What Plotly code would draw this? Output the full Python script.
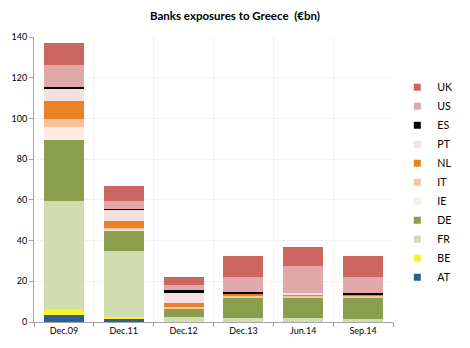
import plotly.graph_objects as go

# Exposure of national banking systems to Greece, € billions
periods = ["Dec.09", "Dec.11", "Dec.12", "Dec.13", "Jun.14", "Sep.14"]

AT = [3.3, 1.8, 0.2, 0.0, 0.0, 0.0]
BE = [2.9, 0.7, 0.0, 0.0, 0.0, 0.0]
FR = [53.0, 32.6, 2.1, 1.8, 1.8, 1.5]
DE = [30.3, 9.8, 4.4, 9.8, 9.8, 10.1]
IE = [6.1, 0.3, 0.0, 0.0, 0.0, 0.0]
IT = [4.2, 1.2, 0.5, 1.5, 1.0, 1.0]
NL = [8.6, 3.0, 2.0, 0.8, 1.0, 1.0]
PT = [6.1, 5.7, 5.2, 0.2, 0.5, 0.0]
ES = [1.0, 0.6, 1.1, 0.8, 0.0, 0.6]
US = [10.8, 3.5, 2.5, 7.2, 13.2, 7.7]
UK = [11.0, 7.8, 3.9, 10.3, 9.3, 10.3]

series = [
    ("AT", AT, "#2E5F92"),
    ("BE", BE, "#FBF22E"),
    ("FR", FR, "#D1DCAF"),
    ("DE", DE, "#8A9E4E"),
    ("IE", IE, "#FCEBE0"),
    ("IT", IT, "#F9C49A"),
    ("NL", NL, "#E98224"),
    ("PT", PT, "#F4E0E0"),
    ("ES", ES, "#000000"),
    ("US", US, "#E0A8A8"),
    ("UK", UK, "#CC6660"),
]

fig = go.Figure()
for name, vals, color in series:
    fig.add_trace(go.Bar(
        x=periods, y=vals, name=name, marker_color=color,
        marker_line_width=0, showlegend=False,
    ))

# Legend entries with small square swatches, top item first
for name, vals, color in reversed(series):
    fig.add_trace(go.Scatter(
        x=[None], y=[None], mode="markers", name=name,
        marker=dict(symbol="square", size=7, color=color),
    ))

font = "Lato, 'Open Sans', sans-serif"
fig.update_layout(
    width=470, height=348,
    margin=dict(l=32, r=52, t=37, b=25),
    paper_bgcolor="white", plot_bgcolor="white",
    barmode="stack", bargap=0.33,
    font=dict(family=font, size=10, color="#000000"),
    title=dict(text="<b>Banks exposures to Greece  (€bn)</b>",
               x=0.5, xanchor="center", y=0.955, yanchor="middle",
               font=dict(size=11.5, family=font)),
    legend=dict(x=1.012, xanchor="left", y=0.875, yanchor="top",
                traceorder="normal", font=dict(size=10.6),
                itemwidth=30, tracegroupgap=0, bgcolor="rgba(0,0,0,0)"),
    xaxis=dict(tickson="boundaries", ticks="outside", ticklen=4,
               tickcolor="#A6A6A6", showline=True, linecolor="#A6A6A6",
               showgrid=True, gridcolor="#F2F2F2",
               tickfont=dict(size=9)),
    yaxis=dict(range=[0, 140], dtick=20, ticks="outside", ticklen=4,
               tickcolor="#A6A6A6", showline=True, linecolor="#A6A6A6",
               gridcolor="#F2F2F2", zeroline=False,
               tickfont=dict(size=9)),
)

fig.write_html("out.html")
